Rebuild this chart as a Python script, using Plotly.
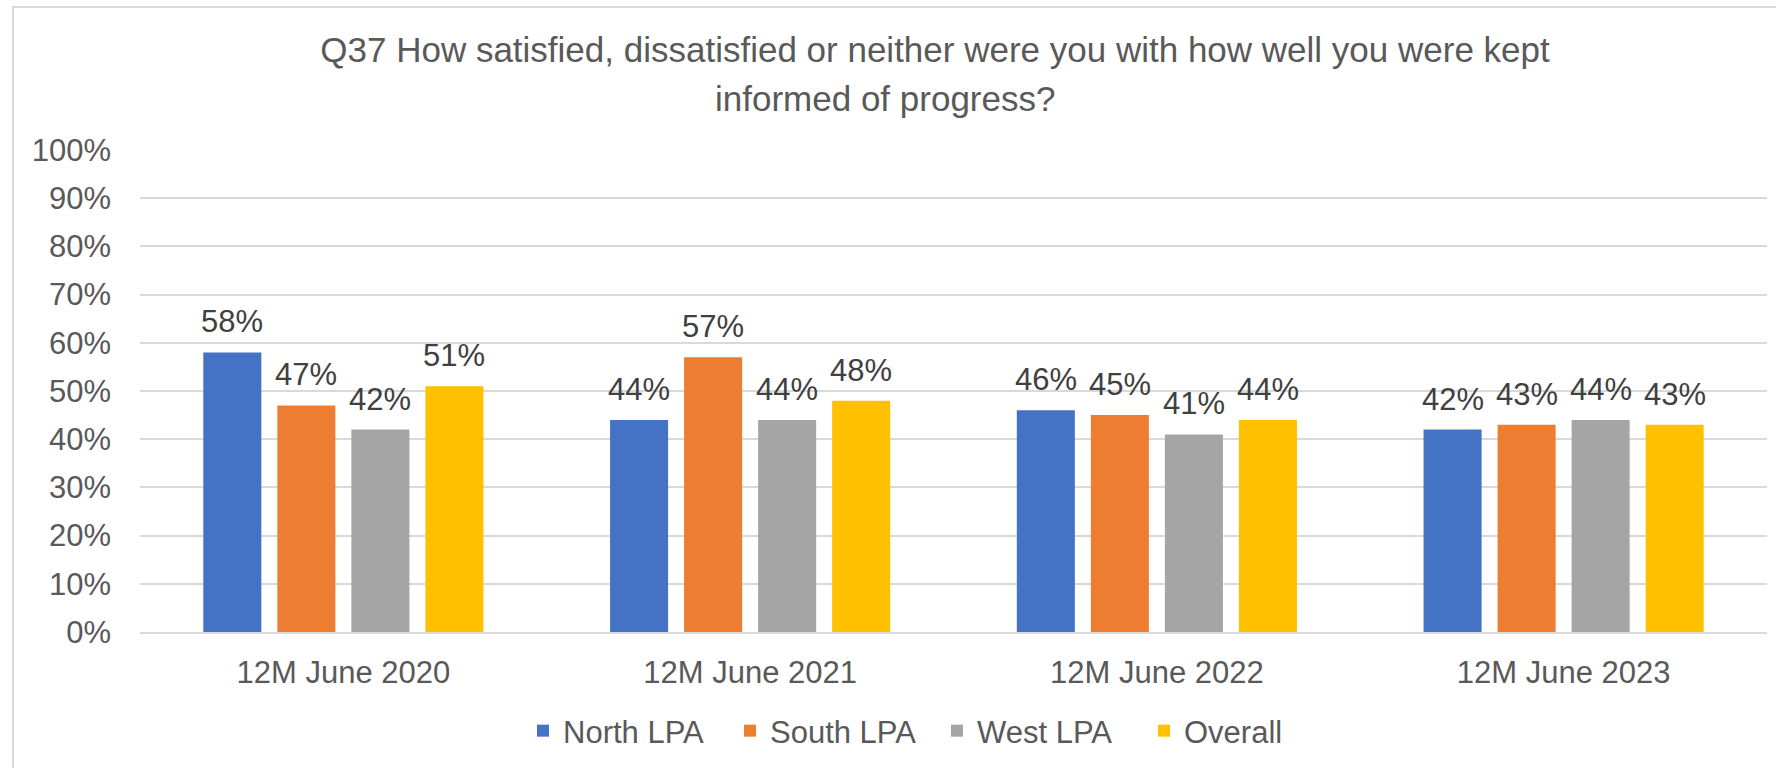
import plotly.graph_objects as go

# Survey periods and satisfaction share per area
periods = ["12M June 2020", "12M June 2021", "12M June 2022", "12M June 2023"]
north = [0.58, 0.44, 0.46, 0.42]
south = [0.47, 0.57, 0.45, 0.43]
west = [0.42, 0.44, 0.41, 0.44]
overall = [0.51, 0.48, 0.44, 0.43]

series_names = ["North LPA", "South LPA", "West LPA", "Overall"]
series_values = [north, south, west, overall]
series_colors = ["#4472C4", "#ED7D31", "#A5A5A5", "#FFC000"]

title_line1 = "Q37 How satisfied, dissatisfied or neither were you with how well you were kept"
title_line2 = "informed of progress?"

FONT = "Liberation Sans, Arial, sans-serif"
W, H = 1776, 768
ML, MR, MT, MB = 140, 9, 150, 136
BARGAP = 0.272
BARGROUPGAP = 0.216

fig = go.Figure()
for name, vals, color in zip(series_names, series_values, series_colors):
    fig.add_trace(go.Bar(
        x=periods, y=vals, name=name,
        marker=dict(color=color, line=dict(width=0)),
        hoverinfo="skip",
    ))

plot_w = W - ML - MR
plot_h = H - MT - MB


def px_to_paper_x(px):
    return (px - ML) / plot_w


def px_to_paper_y(py):
    return (H - MB - py) / plot_h


# value labels above each bar, positioned at the grouped-bar centres
n = len(series_values)
slot = (1 - BARGAP) / n
annotations = []
for k, vals in enumerate(series_values):
    offset = -(1 - BARGAP) / 2 + slot * (k + 0.5)
    for i, v in enumerate(vals):
        annotations.append(dict(
            x=i + offset, y=v, xref="x", yref="y",
            text=f"{round(v * 100)}%", showarrow=False,
            yanchor="bottom", xanchor="center", yshift=11,
            font=dict(family=FONT, size=31, color="#404040"),
        ))

# second line of the chart title
annotations.append(dict(
    x=px_to_paper_x(885), y=px_to_paper_y(99), xref="paper", yref="paper",
    text=title_line2, showarrow=False, xanchor="center", yanchor="middle",
    font=dict(family=FONT, size=35, color="#595959"),
))

fig.update_layout(
    width=W, height=H,
    margin=dict(l=ML, r=MR, t=MT, b=MB, pad=0),
    paper_bgcolor="white", plot_bgcolor="white",
    barmode="group", bargap=BARGAP, bargroupgap=BARGROUPGAP,
    font=dict(family=FONT, size=31, color="#595959"),
    title=dict(
        text=title_line1, x=px_to_paper_x(935), xref="paper", xanchor="center",
        y=1 - 50 / H, yref="container", yanchor="middle",
        font=dict(family=FONT, size=35, color="#595959"),
    ),
    xaxis=dict(
        showgrid=False, showline=True, linecolor="#D9D9D9", linewidth=2,
        ticks="", ticklabelstandoff=12,
        tickfont=dict(family=FONT, size=31, color="#595959"),
        fixedrange=True,
    ),
    yaxis=dict(
        range=[0, 1], dtick=0.1, tick0=0, tickformat=".0%",
        showgrid=True, gridcolor="#D9D9D9", gridwidth=2,
        zeroline=False, showline=False, ticks="", ticklabelstandoff=28,
        tickfont=dict(family=FONT, size=31, color="#595959"),
        fixedrange=True,
    ),
    legend=dict(
        orientation="h", x=px_to_paper_x(523), xanchor="left",
        y=px_to_paper_y(731), yanchor="middle",
        entrywidth=162, entrywidthmode="pixels",
        font=dict(family=FONT, size=31, color="#595959"),
        bgcolor="rgba(0,0,0,0)", traceorder="normal",
    ),
    annotations=annotations,
    shapes=[dict(
        type="rect", xref="paper", yref="paper",
        x0=px_to_paper_x(13), x1=1.05, y0=-0.4, y1=px_to_paper_y(7),
        line=dict(color="#D9D9D9", width=2), fillcolor="rgba(0,0,0,0)",
        layer="below",
    )],
    showlegend=True,
)

fig.write_html("out.html", config={"displayModeBar": False})
